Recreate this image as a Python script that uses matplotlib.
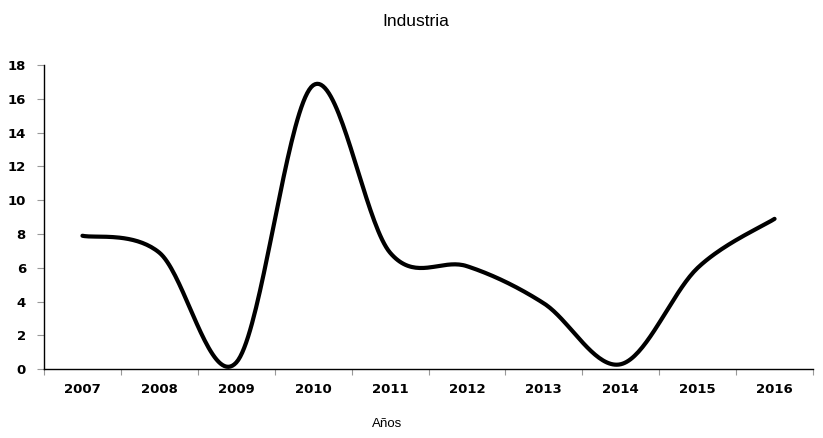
import numpy as np
import matplotlib

matplotlib.use("Agg")

import matplotlib.pyplot as plt

# ============================================================
# DATOS
# ============================================================

ANIOS = ["2007", "2008", "2009", "2010", "2011",
         "2012", "2013", "2014", "2015", "2016"]
VALORES = [7.9, 6.9, 0.4, 16.8, 6.9, 6.1, 3.9, 0.3, 6.0, 8.9]

TITULO = "Industria"
ETIQUETA_X = "Años"


# ============================================================
# CURVA SUAVIZADA (estilo Excel, Bezier tipo Catmull-Rom)
# ============================================================

def curva_suave(x, y, pasos=40):
    x = np.asarray(x, dtype=float)
    y = np.asarray(y, dtype=float)
    n = len(x)
    xs, ys = [], []
    for i in range(n - 1):
        x0, y0 = x[max(i - 1, 0)], y[max(i - 1, 0)]
        x1, y1 = x[i], y[i]
        x2, y2 = x[i + 1], y[i + 1]
        x3, y3 = x[min(i + 2, n - 1)], y[min(i + 2, n - 1)]
        c1x, c1y = x1 + (x2 - x0) / 6, y1 + (y2 - y0) / 6
        c2x, c2y = x2 - (x3 - x1) / 6, y2 - (y3 - y1) / 6
        t = np.linspace(0, 1, pasos)
        a = (1 - t) ** 3
        b = 3 * (1 - t) ** 2 * t
        c = 3 * (1 - t) * t ** 2
        d = t ** 3
        xs.append(a * x1 + b * c1x + c * c2x + d * x2)
        ys.append(a * y1 + b * c1y + c * c2y + d * y2)
    return np.concatenate(xs), np.concatenate(ys)


posiciones = np.arange(len(ANIOS))
xs, ys = curva_suave(posiciones, VALORES)


# ============================================================
# GRÁFICO
# ============================================================

fig = plt.figure(figsize=(8.23, 4.38), dpi=100)
ax = fig.add_axes([44 / 823, (438 - 369.3) / 438,
                   (813 - 44) / 823, (369.3 - 65) / 438])

ax.plot(xs, ys, color="black", linewidth=3.0,
        solid_capstyle="round", solid_joinstyle="round", clip_on=False)

ax.set_xlim(-0.5, len(ANIOS) - 0.5)
ax.set_ylim(0, 18)
ax.set_yticks(np.arange(0, 19, 2))

# Marcas en los límites de categoría, etiquetas en el centro
ax.set_xticks(np.arange(-0.5, len(ANIOS), 1.0))
ax.set_xticklabels([])
ax.set_xticks(posiciones, minor=True)
ax.set_xticklabels(ANIOS, minor=True, fontsize=9.5, fontweight="bold")
ax.tick_params(axis="x", which="major", length=4, color="#999999", width=0.8)
ax.tick_params(axis="x", which="minor", length=0, pad=10)
ax.tick_params(axis="y", length=5, color="#999999", width=0.8, pad=8)

for etiqueta in ax.get_yticklabels():
    etiqueta.set_fontsize(9.5)
    etiqueta.set_fontweight("bold")

for lado in ["top", "right"]:
    ax.spines[lado].set_visible(False)
for lado in ["left", "bottom"]:
    ax.spines[lado].set_color("black")
    ax.spines[lado].set_linewidth(1.0)

fig.text(416 / 823, 1 - 22 / 438, TITULO, ha="center", va="center",
         fontsize=12.5, family="Liberation Sans")
fig.text(387 / 823, 1 - 424 / 438, ETIQUETA_X, ha="center", va="center",
         fontsize=9.5, family="Liberation Sans")

fig.savefig("out.png", dpi=100)
plt.close(fig)
